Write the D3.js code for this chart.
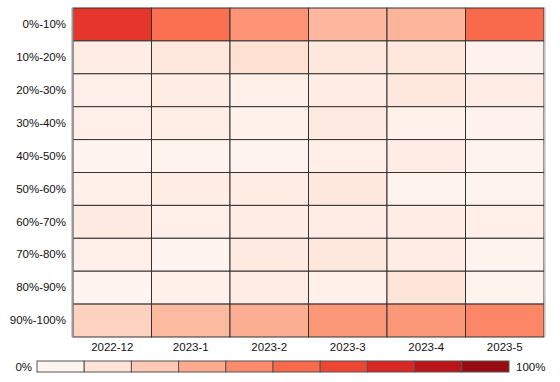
<!DOCTYPE html>
<html>
<head>
<meta charset="utf-8">
<script src="https://cdn.jsdelivr.net/npm/d3@7"></script>
<style>
  body { margin: 0; background: #fff; }
  svg { display: block; font-family: Helvetica, Arial, "Liberation Sans", sans-serif; }
</style>
</head>
<body>
<svg width="560" height="382"></svg>
<script>
const width = 560;
const height = 382;
const margin = {top: 8, right: 16, bottom: 45, left: 73};

const months = ['2022-12', '2023-1', '2023-2', '2023-3', '2023-4', '2023-5'];
const buckets = ['0%-10%', '10%-20%', '20%-30%', '30%-40%', '40%-50%',
                 '50%-60%', '60%-70%', '70%-80%', '80%-90%', '90%-100%'];

// share (%) per bucket, one array per month
const v202212 = [65, 5, 3.5, 3.5, 0.5, 3, 6, 3.5, 0.5, 17];
const v20231  = [48, 8, 5.5, 4, 1, 5.5, 3.5, 0.5, 3, 25];
const v20232  = [37, 11, 3, 2, 1, 5.5, 5, 6.5, 4.5, 29];
const v20233  = [26, 8, 4.5, 6.5, 3.5, 8, 4.5, 8, 2.5, 36];
const v20234  = [27, 7.5, 7.5, 2, 4.5, 1, 4.5, 4.5, 9, 36];
const v20235  = [50, 1.5, 5, 1.5, 1, 1, 3.5, 1, 1, 41];

const legendSteps = [0, 10, 20, 30, 40, 50, 60, 70, 80, 90];

const series = [v202212, v20231, v20232, v20233, v20234, v20235];
let cells = [];
months.forEach((m, i) => {
  buckets.forEach((b, j) => {
    cells.push({month: m, bucket: b, value: series[i][j]});
  });
});

let xScale = d3.scaleBand()
               .domain(months)
               .range([margin.left, width - margin.right]);

let yScale = d3.scaleBand()
               .domain(buckets)
               .range([margin.top, height - margin.bottom]);

let color = d3.scaleSequential(d3.interpolateReds).domain([0, 100]);

let svg = d3.select('svg');

svg.selectAll('rect.cell')
  .data(cells)
  .enter()
  .append('rect')
    .classed('cell', true)
    .attr('x', d => xScale(d.month))
    .attr('y', d => yScale(d.bucket))
    .attr('width', xScale.bandwidth())
    .attr('height', yScale.bandwidth())
    .attr('fill', d => color(d.value))
    .attr('stroke', '#333')
    .attr('stroke-width', 1);

// grey frame on the sides
svg.append('line')
  .attr('x1', margin.left - 0.5).attr('x2', margin.left - 0.5)
  .attr('y1', margin.top).attr('y2', height - margin.bottom)
  .attr('stroke', '#999').attr('stroke-width', 2);

svg.append('line')
  .attr('x1', width - margin.right + 1).attr('x2', width - margin.right + 1)
  .attr('y1', margin.top).attr('y2', height - margin.bottom)
  .attr('stroke', '#ccc').attr('stroke-width', 1.5);

// Y - Axis
svg.append('g')
  .attr('transform', 'translate(' + (margin.left - 1) + ',0)')
  .call(d3.axisLeft(yScale).tickSize(0).tickPadding(6))
  .call(g => g.select('.domain').remove())
  .selectAll('text')
    .attr('font-size', 11.5)
    .attr('fill', '#111');

// X - Axis
svg.append('g')
  .attr('transform', 'translate(0,' + (height - margin.bottom) + ')')
  .call(d3.axisBottom(xScale).tickSize(0).tickPadding(6))
  .call(g => g.select('.domain').remove())
  .selectAll('text')
    .attr('font-size', 11.5)
    .attr('fill', '#111');

// Legend
let legendScale = d3.scaleLinear()
                    .domain([0, 100])
                    .range([37, 509]);

svg.selectAll('rect.legend')
  .data(legendSteps)
  .enter()
  .append('rect')
    .classed('legend', true)
    .attr('x', d => legendScale(d))
    .attr('y', 361)
    .attr('width', legendScale(10) - legendScale(0))
    .attr('height', 11)
    .attr('fill', d => color(d))
    .attr('stroke', '#555')
    .attr('stroke-width', 1);

svg.append('text')
  .text('0%')
  .attr('x', 32)
  .attr('y', 371)
  .attr('text-anchor', 'end')
  .attr('font-size', 11.5)
  .attr('fill', '#111');

svg.append('text')
  .text('100%')
  .attr('x', 516)
  .attr('y', 371)
  .attr('font-size', 11.5)
  .attr('fill', '#111');
</script>
</body>
</html>
